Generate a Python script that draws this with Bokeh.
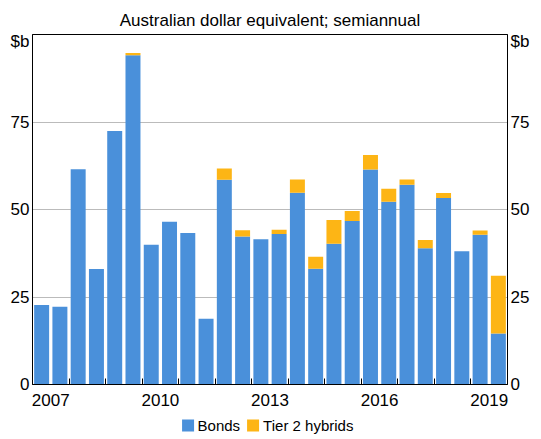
from bokeh.plotting import figure
from bokeh.layouts import column
from bokeh.models import Range1d, FixedTicker, LinearAxis, Legend, LegendItem, ColumnDataSource
from bokeh.embed import file_html
from bokeh.resources import INLINE

periods = ["2007-H1", "2007-H2", "2008-H1", "2008-H2", "2009-H1", "2009-H2",
           "2010-H1", "2010-H2", "2011-H1", "2011-H2", "2012-H1", "2012-H2",
           "2013-H1", "2013-H2", "2014-H1", "2014-H2", "2015-H1", "2015-H2",
           "2016-H1", "2016-H2", "2017-H1", "2017-H2", "2018-H1", "2018-H2",
           "2019-H1", "2019-H2"]
bonds = [22.7, 22.2, 61.5, 33.0, 72.4, 94.1, 39.9, 46.5, 43.3, 18.8, 58.5, 42.3,
         41.5, 43.0, 54.8, 33.1, 40.2, 46.7, 61.4, 52.2, 57.1, 38.9, 53.3, 38.1,
         42.8, 14.6]
tier2 = [0, 0, 0, 0, 0, 0.6, 0, 0, 0, 0, 3.2, 1.8,
         0, 1.2, 3.8, 3.4, 6.8, 2.9, 4.2, 3.7, 1.5, 2.4, 1.4, 0,
         1.2, 16.5]
series_names = ["Bonds", "Tier 2 hybrids"]
year_labels = ["2007", "2010", "2013", "2016", "2019"]
y_ticks = [0, 25, 50, 75]
y_tick_labels = ["0", "25", "50", "75"]
unit_label = "$b"

BLUE = "#4A90DA"
ORANGE = "#FDB515"
FONT = "Liberation Sans"

xs = [int(p[:4]) + (0.25 if p.endswith("H1") else 0.75) for p in periods]
src = ColumnDataSource(dict(x=xs, bonds=bonds, tier2=tier2))

p = figure(frame_width=475, frame_height=350, output_backend="svg", toolbar_location=None,
           x_range=Range1d(2007, 2020), y_range=Range1d(0, 100),
           min_border=0, margin=(3, 0, 0, 7))

p.title.text = "Australian dollar equivalent; semiannual"
p.title.align = "center"
p.title.text_font = FONT
p.title.text_font_size = "17px"
p.title.text_font_style = "normal"
p.title.text_color = "black"
p.title.offset = 0

p.vbar_stack(["bonds", "tier2"], x="x", width=0.41, source=src,
             color=[BLUE, ORANGE], line_color=None)

p.outline_line_color = "black"
p.outline_line_width = 1
p.outline_line_alpha = 1

unit_pos = 98
yt = FixedTicker(ticks=y_ticks + [unit_pos])
overrides = {v: s for v, s in zip(y_ticks, y_tick_labels)}
overrides[unit_pos] = unit_label

p.yaxis.ticker = yt
p.yaxis.major_label_overrides = overrides

right = LinearAxis(ticker=yt, major_label_overrides=overrides)
p.add_layout(right, "right")

for ax in [p.yaxis[0], right]:
    ax.axis_line_color = "black"
    ax.major_tick_line_color = None
    ax.minor_tick_line_color = None
    ax.major_tick_out = 0
    ax.major_tick_in = 0
    ax.major_label_text_font = FONT
    ax.major_label_text_font_size = "17px"
    ax.major_label_text_color = "black"
    ax.major_label_standoff = 3

label_pos = [int(y) + 0.5 for y in year_labels]
xt = FixedTicker(ticks=label_pos, minor_ticks=list(range(2008, 2020)))
p.xaxis.ticker = xt
p.xaxis.major_label_overrides = {v: s for v, s in zip(label_pos, year_labels)}
p.xaxis.major_tick_line_color = None
p.xaxis.major_tick_out = 0
p.xaxis.major_tick_in = 0
p.xaxis.minor_tick_line_color = "black"
p.xaxis.minor_tick_in = 6
p.xaxis.minor_tick_out = 0
p.xaxis.axis_line_color = "black"
p.xaxis.major_label_text_font = FONT
p.xaxis.major_label_text_font_size = "17px"
p.xaxis.major_label_text_color = "black"
p.xaxis.major_label_standoff = 9

p.xgrid.visible = False
p.ygrid.ticker = FixedTicker(ticks=[25, 50, 75])
p.ygrid.grid_line_color = "#BBBBBB"
p.ygrid.grid_line_width = 1

# legend strip below the chart, aligned with the chart frame
lf = figure(frame_width=475, frame_height=18, output_backend="svg", toolbar_location=None,
            x_range=Range1d(0, 1), y_range=Range1d(0, 1),
            min_border=0, margin=(8, 0, 0, 29))
lf.axis.visible = False
lf.grid.visible = False
lf.outline_line_color = None
# same series, drawn outside this strip's view, only to supply legend swatches
leg_r = lf.vbar_stack(["bonds", "tier2"], x="x", width=0.41, source=src,
                      color=[BLUE, ORANGE], line_color=None)
legend = Legend(items=[LegendItem(label=n, renderers=[rr]) for n, rr in zip(series_names, leg_r)],
                orientation="horizontal", location="center",
                border_line_color=None, background_fill_alpha=0,
                label_text_font=FONT, label_text_font_size="15px",
                label_text_color="black",
                glyph_width=15, glyph_height=15, label_standoff=3, spacing=5,
                padding=0, margin=0)
lf.add_layout(legend)

page = column(p, lf, spacing=0)
open("out.html", "w").write(file_html(page, INLINE))
